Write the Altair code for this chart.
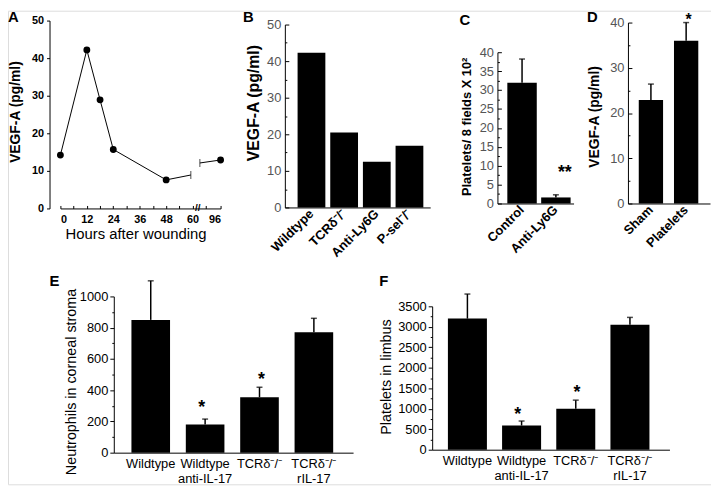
import altair as alt
import pandas as pd

FONT = "Liberation Sans"
W, H = 711, 479

# ---------------- data ----------------
# Panel A: VEGF-A time course (hours, 96 h drawn after an axis break)
a_hours = [0, 12, 18, 24, 48, 59.2, 63.3, 72.7]
a_vegf = [14.2, 42.2, 28.9, 15.7, 7.6, 8.9, 12.1, 12.9]
a_segment = ["before", "before", "before", "before", "before", "before", "after", "after"]
a_marker = ["dot", "dot", "dot", "dot", "dot", "break", "break", "dot"]
a_tick_pos = [0, 12, 24, 36, 48, 60, 72.7]
a_minor_pos = [0, 6, 12, 18, 24, 30, 36, 42, 48, 54, 60, 66, 72.7]
a_axis_break = [62.3]

# Panel B
b_groups = ["Wildtype", "TCRδ⁻/⁻", "Anti-Ly6G", "P-sel⁻/⁻"]
b_vegf = [42.3, 20.5, 12.5, 16.9]

# Panel C
c_groups = ["Control", "Anti-Ly6G"]
c_platelets = [31.9, 1.6]
c_err = [38.2, 2.3]
c_sig = ["", "**"]
c_sig_y = [0, 9.2]

# Panel D
d_groups = ["Sham", "Platelets"]
d_vegf = [22.9, 36.0]
d_err = [26.4, 40.0]
d_sig = ["", "*"]
d_sig_y = [0, 42.2]

# Panel E
e_groups = ["Wildtype", "Wildtype|anti-IL-17", "TCRδ⁻/⁻", "TCRδ⁻/⁻|rIL-17"]
e_neut = [850, 180, 355, 770]
e_err = [1100, 215, 418, 860]
e_sig = ["", "*", "*", ""]
e_sig_y = [0, 310, 490, 0]

# Panel F
f_groups = ["Wildtype", "Wildtype|anti-IL-17", "TCRδ⁻/⁻", "TCRδ⁻/⁻|rIL-17"]
f_plt = [3200, 590, 1000, 3050]
f_err = [3800, 700, 1210, 3230]
f_sig = ["", "*", "*", ""]
f_sig_y = [0, 950, 1480, 0]


def yaxis_style(**kw):
    base = dict(grid=False, domainColor="black", tickColor="black", tickSize=3, orient="left",
                labelFont=FONT, titleFont=FONT, titleAngle=270, titleBaseline="middle",
                titleColor="black")
    base.update(kw)
    return alt.Axis(**base)


def xaxis_style(**kw):
    base = dict(grid=False, domainColor="black", tickColor="black", labelFont=FONT,
                titleFont=FONT, titleColor="black", orient="bottom")
    base.update(kw)
    return alt.Axis(**base)


def tick_axis(values, orient, offset, size):
    return alt.Axis(values=values, orient=orient, offset=offset, tickSize=size, tickColor="black",
                    labels=False, domain=False, grid=False, title=None)


layers = []

# ---------------- Panel A ----------------
dfa = pd.DataFrame({"h": a_hours, "v": a_vegf, "seg": a_segment, "m": a_marker})
xa = alt.Scale(domain=[0, 72.7], range=[53, 215], nice=False, zero=False)
ya = alt.Scale(domain=[0, 50], range=[200, 10], nice=False, zero=False)
ax_a_x = xaxis_style(values=a_tick_pos, offset=-279, ticks=False,
                     labelExpr="datum.value > 66 ? '96' : datum.label",
                     labelFontWeight="bold", labelFontSize=11, labelPadding=5, labelColor="black",
                     title="Hours after wounding", titleFontSize=15, titleFontWeight="normal",
                     titleX=129, titleY=25, titleBaseline="middle")
ax_a_y = yaxis_style(values=[0, 10, 20, 30, 40, 50], offset=-42, labelFontWeight="bold",
                     labelFontSize=11, labelColor="black", labelPadding=3,
                     title="VEGF-A (pg/ml)", titleFontSize=14, titleFontWeight="bold",
                     titleX=-34, titleY=102)
layers.append(
    alt.Chart(dfa).mark_line(color="black", strokeWidth=1).encode(
        x=alt.X("h:Q", scale=xa, axis=ax_a_x),
        y=alt.Y("v:Q", scale=ya, axis=ax_a_y),
        detail="seg:N",
    )
)
layers.append(
    alt.Chart(dfa).transform_filter("datum.m == 'dot'").mark_circle(color="black", size=48, opacity=1).encode(
        x=alt.X("h:Q", scale=xa, axis=tick_axis(a_minor_pos, "top", -200, 3)),
        y=alt.Y("v:Q", scale=ya, axis=None)
    )
)
layers.append(
    alt.Chart(dfa).transform_filter("datum.m == 'break'").mark_tick(
        color="black", orient="vertical", size=8, thickness=1).encode(
        x=alt.X("h:Q", scale=xa, axis=None), y=alt.Y("v:Q", scale=ya, axis=None)
    )
)
dfab = pd.DataFrame({"h": a_axis_break, "v": [0] * len(a_axis_break)})
layers.append(
    alt.Chart(dfab).mark_text(text="//", font=FONT, fontSize=10, fontWeight="bold", color="black",
                              baseline="middle").encode(
        x=alt.X("h:Q", scale=xa, axis=None), y=alt.Y("v:Q", scale=ya, axis=None)
    )
)


# ---------------- bar panels ----------------
def bar_panel(groups, vals, errs, sigs, sig_ys, xrange, pin, pout, align, ydom, yrange, yaxis,
              xaxis, axis_x, majors, minors, inward, sig_size=18, sig_baseline="middle", sig_dy=4):
    df = pd.DataFrame({"g": groups, "v": vals})
    xs = alt.Scale(domain=groups, range=xrange, paddingInner=pin, paddingOuter=pout, align=align)
    ys = alt.Scale(domain=ydom, range=yrange, nice=False, zero=False)
    out = [alt.Chart(df).mark_bar(color="black").encode(
        x=alt.X("g:N", scale=xs, axis=xaxis, sort=groups),
        y=alt.Y("v:Q", scale=ys, axis=yaxis),
    )]
    # tick-only axes (major + minor)
    if inward:
        tick_specs = [(majors, "right", axis_x - W, 4), (minors, "right", axis_x - W, 2)]
    else:
        tick_specs = [(minors, "left", -axis_x, 2)]
    for vals_, orient, off, size in tick_specs:
        out.append(alt.Chart(df).mark_point(opacity=0).encode(
            x=alt.X("g:N", scale=xs, axis=None, sort=groups),
            y=alt.Y("v:Q", scale=ys, axis=tick_axis(vals_, orient, off, size))))
    if errs is not None:
        dfe = pd.DataFrame({"g": groups, "v": vals, "e": errs})
        out.append(alt.Chart(dfe).mark_rule(color="black", strokeWidth=1.5).encode(
            x=alt.X("g:N", scale=xs, axis=None, sort=groups),
            y=alt.Y("v:Q", scale=ys, axis=None), y2="e:Q"))
        out.append(alt.Chart(dfe).mark_tick(color="black", orient="horizontal", size=6,
                                            thickness=1.5).encode(
            x=alt.X("g:N", scale=xs, axis=None, sort=groups),
            y=alt.Y("e:Q", scale=ys, axis=None)))
    if sigs is not None:
        dfs = pd.DataFrame({"g": groups, "s": sigs, "y": sig_ys})
        dfs = dfs[dfs["s"] != ""]
        out.append(alt.Chart(dfs).mark_text(font=FONT, fontSize=sig_size, fontWeight="bold",
                                            color="black", baseline=sig_baseline, dy=sig_dy).encode(
            x=alt.X("g:N", scale=xs, axis=None, sort=groups),
            y=alt.Y("y:Q", scale=ys, axis=None), text="s:N"))
    return out


def top_x_axis(offset):
    return xaxis_style(offset=offset, ticks=False, labelAngle=315, labelAlign="right",
                       labelBaseline="middle", labelPadding=4, labelFontWeight="bold",
                       labelFontSize=13, labelColor="black", title=None)


def gray_y_axis(values, offset, title, tsize, tx, ty):
    return yaxis_style(values=values, offset=offset, ticks=False, labelColor="#555555",
                       labelFontSize=13, labelFontWeight="normal", labelPadding=4, title=title,
                       titleFontSize=tsize, titleFontWeight="bold", titleX=tx, titleY=ty)


# B
b_major = [0, 10, 20, 30, 40, 50]
b_minor = [5, 15, 25, 35, 45]
layers += bar_panel(b_groups, b_vegf, None, None, None, [280, 427], 0.15, 0.30, 0.65, [0, 50],
                    [199, 14],
                    gray_y_axis(b_major, -280, "VEGF-A (pg/ml)", 16, -32, 93),
                    top_x_axis(-280), 280, b_major, b_minor, True)
# C
c_major = [0, 5, 10, 15, 20, 25, 30, 35, 40]
c_minor = [2.5, 7.5, 12.5, 17.5, 22.5, 27.5, 32.5, 37.5]
layers += bar_panel(c_groups, c_platelets, c_err, c_sig, c_sig_y, [495, 572], 0.13, 0.19, 0.77,
                    [0, 40], [195, 42],
                    gray_y_axis(c_major, -495, "Platelets/ 8 fields X 10²", 13, -31, 117),
                    top_x_axis(-284), 495, c_major, c_minor, True)
# D
d_major = [0, 10, 20, 30, 40]
d_minor = [5, 15, 25, 35]
layers += bar_panel(d_groups, d_vegf, d_err, d_sig, d_sig_y, [627, 710], 0.31, 0.32, 0.48,
                    [0, 40], [195, 12],
                    gray_y_axis(d_major, -627, "VEGF-A (pg/ml)", 14, -34, 107),
                    top_x_axis(-284), 627, d_major, d_minor, True,
                    sig_size=16, sig_baseline="top", sig_dy=0)


def bottom_x_axis(offset):
    return xaxis_style(offset=offset, ticks=False, labelAngle=0, labelAlign="center",
                       labelBaseline="top", labelPadding=5, labelFontSize=13,
                       labelFontWeight="normal", labelColor="black", labelLineHeight=15,
                       labelExpr="split(datum.label, '|')", title=None)


def black_y_axis(values, offset, title, tx, ty):
    return yaxis_style(values=values, offset=offset, tickSize=4, labelColor="black",
                       labelFontSize=13, labelFontWeight="normal", labelPadding=2, format="d",
                       title=title, titleFontSize=14.5, titleFontWeight="normal",
                       titleX=tx, titleY=ty)


# E
e_major = [0, 200, 400, 600, 800, 1000]
e_minor = [100, 300, 500, 700, 900]
layers += bar_panel(e_groups, e_neut, e_err, e_sig, e_sig_y, [107, 349], 0.29, 0.345, 0.47,
                    [0, 1000], [447, 289],
                    black_y_axis(e_major, -107, "Neutrophils in corneal stroma", -43, 375),
                    bottom_x_axis(-32), 107, e_major, e_minor, False)
# F
f_major = [0, 500, 1000, 1500, 2000, 2500, 3000, 3500]
f_minor = [250, 750, 1250, 1750, 2250, 2750, 3250]
layers += bar_panel(f_groups, f_plt, f_err, f_sig, f_sig_y, [429, 669], 0.28, 0.33, 0.44,
                    [0, 3500], [444, 299],
                    black_y_axis(f_major, -429, "Platelets in limbus", -46, 370),
                    bottom_x_axis(-35), 429, f_major, f_minor, False)

# ---------------- panel letters ----------------
letters = [("A", 0, 6), ("B", 243, 6), ("C", 462, 9), ("D", 591, 6), ("E", 47, 273), ("F", 380, 273)]
for t, px, py in letters:
    layers.append(
        alt.Chart(pd.DataFrame({"t": [t]})).mark_text(
            font=FONT, fontSize=15, fontWeight="bold", color="black", align="left" if t == "A" else "center",
            baseline="middle").encode(
            text="t:N", x=alt.value(px), y=alt.value(py))
    )

chart = alt.layer(*layers).resolve_scale(x="independent", y="independent").resolve_axis(
    x="independent", y="independent"
).properties(
    width=W, height=H, padding=0, autosize=alt.AutoSizeParams(type="none")
).configure_view(strokeWidth=0).configure(background="white")

chart.save("out.html", embed_options={"renderer": "svg", "actions": False})
